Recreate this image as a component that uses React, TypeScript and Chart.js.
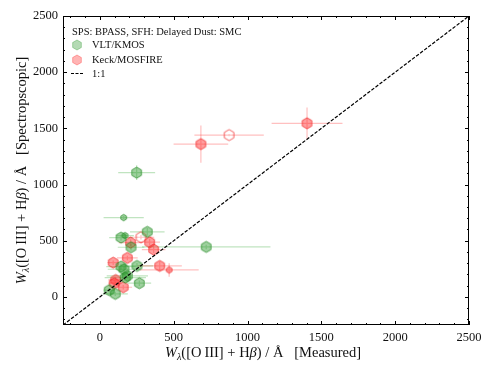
import { useEffect, useRef } from 'react';
import { Chart, registerables } from 'chart.js';
Chart.register(...registerables);

const axisMin = -250;
const axisMax = 2500;
const majorTicks = [0, 500, 1000, 1500, 2000, 2500];
const minorStep = 100;

const kmosMeasured = [249, 161, 321, 143, 170, 211, 720, 143, 163, 251, 172, 186, 267, 63, 104];
const kmosSpec = [1106, 706, 579, 528, 546, 442, 445, 270, 246, 276, 172, 187, 122, 60, 27];
const kmosMeasuredErr = [125, 136, 117, 80, 60, 90, 435, 100, 110, 110, 140, 140, 80, 40, 85];
const kmosSpecErr = [65, 15, 35, 25, 20, 30, 20, 25, 25, 25, 20, 20, 25, 20, 20];
const kmosCompact = [false, true, false, false, true, false, false, false, false, false, false, false, false, false, false];

const mosfireMeasured = [684, 875, 1403, 278, 208, 337, 364, 186, 90, 405, 469, 107, 97, 158];
const mosfireSpec = [1360, 1440, 1545, 531, 483, 487, 421, 347, 305, 276, 240, 151, 122, 86];
const mosfireMeasuredErr = [185, 235, 240, 90, 80, 70, 80, 70, 40, 150, 200, 50, 40, 60];
const mosfireSpecErr = [165, 10, 140, 20, 30, 30, 30, 20, 20, 40, 60, 30, 30, 20];
const mosfireCompact = [false, false, false, false, false, false, false, false, false, false, true, false, false, false];
const mosfireOpen = [false, true, false, true, false, false, false, false, false, false, false, false, false, false];

const oneToOne = [axisMin, axisMax];

const legendTitle = 'SPS: BPASS, SFH: Delayed Dust: SMC';
const kmosLabel = 'VLT/KMOS';
const mosfireLabel = 'Keck/MOSFIRE';
const lineLabel = '1:1';

const FONT = '"Liberation Serif", "Times New Roman", serif';

function makeHex(r: number, fill: string | null, stroke: string, lw: number) {
  const size = Math.ceil(2 * (r + lw)) + 2;
  const c = document.createElement('canvas');
  c.width = size;
  c.height = size;
  const g = c.getContext('2d')!;
  const cx = size / 2, cy = size / 2;
  g.beginPath();
  for (let k = 0; k < 6; k++) {
    const a = (-90 + 60 * k) * Math.PI / 180;
    const px = cx + r * Math.cos(a), py = cy + r * Math.sin(a);
    if (k === 0) g.moveTo(px, py); else g.lineTo(px, py);
  }
  g.closePath();
  if (fill) { g.fillStyle = fill; g.fill(); }
  g.lineWidth = lw;
  g.strokeStyle = stroke;
  g.stroke();
  return c;
}

type Seg = { t: string; it?: boolean; sub?: boolean };

function drawRich(ctx: CanvasRenderingContext2D, segs: Seg[], size: number) {
  const fontFor = (s: Seg) => `${s.it ? 'italic ' : ''}${s.sub ? size * 0.7 : size}px ${FONT}`;
  let total = 0;
  const widths = segs.map((s) => { ctx.font = fontFor(s); const w = ctx.measureText(s.t).width; total += w; return w; });
  let x = -total / 2;
  ctx.textBaseline = 'alphabetic';
  ctx.textAlign = 'left';
  segs.forEach((s, i) => {
    ctx.font = fontFor(s);
    ctx.fillText(s.t, x, s.sub ? size * 0.22 : 0);
    x += widths[i];
  });
}

const GREEN_FILL = 'rgba(40,150,40,0.45)';
const GREEN_EDGE = 'rgba(40,140,40,0.75)';
const GREEN_ERR = 'rgba(60,170,60,0.32)';
const RED_FILL = 'rgba(255,40,40,0.45)';
const RED_EDGE = 'rgba(240,30,30,0.7)';
const RED_ERR = 'rgba(255,60,60,0.32)';

export default function App() {
  const ref = useRef<HTMLCanvasElement>(null);
  useEffect(() => {
    document.body.style.margin = '0';
    const greenBig = makeHex(5.5, GREEN_FILL, GREEN_EDGE, 1);
    const greenSmall = makeHex(3.2, GREEN_FILL, GREEN_EDGE, 1);
    const redBig = makeHex(5.5, RED_FILL, RED_EDGE, 1);
    const redSmall = makeHex(3.2, RED_FILL, RED_EDGE, 1);
    const redOpen = makeHex(5.5, null, RED_EDGE, 1);
    const greenLegend = makeHex(5, 'rgba(40,150,40,0.35)', 'rgba(40,150,40,0.35)', 1);
    const redLegend = makeHex(5, 'rgba(255,40,40,0.35)', 'rgba(255,40,40,0.35)', 1);

    const errorBars = {
      id: 'errorBars',
      beforeDatasetsDraw(chart: any) {
        const { ctx, chartArea, scales } = chart;
        ctx.save();
        ctx.beginPath();
        ctx.rect(chartArea.left, chartArea.top, chartArea.right - chartArea.left, chartArea.bottom - chartArea.top);
        ctx.clip();
        ctx.lineWidth = 1.2;
        chart.data.datasets.forEach((ds: any) => {
          if (!ds.errX) return;
          ctx.strokeStyle = ds.errColor;
          ds.data.forEach((p: any, i: number) => {
            const x = scales.x.getPixelForValue(p.x);
            const y = scales.y.getPixelForValue(p.y);
            const x0 = scales.x.getPixelForValue(p.x - ds.errX[i]);
            const x1 = scales.x.getPixelForValue(p.x + ds.errX[i]);
            const y0 = scales.y.getPixelForValue(p.y - ds.errY[i]);
            const y1 = scales.y.getPixelForValue(p.y + ds.errY[i]);
            ctx.beginPath();
            ctx.moveTo(x0, y); ctx.lineTo(x1, y);
            ctx.moveTo(x, y0); ctx.lineTo(x, y1);
            ctx.stroke();
          });
        });
        ctx.restore();
      },
    };

    const frame = {
      id: 'frame',
      afterDraw(chart: any) {
        const { ctx, chartArea: a, scales } = chart;
        ctx.save();
        ctx.strokeStyle = '#000';
        ctx.lineWidth = 1;
        ctx.strokeRect(a.left + 0.5, a.top + 0.5, a.right - a.left - 1, a.bottom - a.top - 1);
        ctx.beginPath();
        for (let v = -200; v <= axisMax; v += minorStep) {
          const major = v % 500 === 0;
          const len = major ? 4 : 2;
          const px = Math.round(scales.x.getPixelForValue(v)) + 0.5;
          ctx.moveTo(px, a.bottom); ctx.lineTo(px, a.bottom - len);
          ctx.moveTo(px, a.top); ctx.lineTo(px, a.top + len);
          const py = Math.round(scales.y.getPixelForValue(v)) + 0.5;
          ctx.moveTo(a.left, py); ctx.lineTo(a.left + len, py);
          ctx.moveTo(a.right, py); ctx.lineTo(a.right - len, py);
        }
        ctx.stroke();

        // axis titles
        ctx.fillStyle = '#111';
        ctx.save();
        ctx.translate((a.left + a.right) / 2 - 3, 357);
        drawRich(ctx, [
          { t: 'W', it: true }, { t: 'λ', sub: true, it: true },
          { t: '([O\u2009III] + H' }, { t: 'β', it: true },
          { t: ') / Å   [Measured]' },
        ], 14.5);
        ctx.restore();
        ctx.save();
        ctx.translate(26, (a.top + a.bottom) / 2);
        ctx.rotate(-Math.PI / 2);
        drawRich(ctx, [
          { t: 'W', it: true }, { t: 'λ', sub: true, it: true },
          { t: '([O\u2009III] + H' }, { t: 'β', it: true },
          { t: ') / Å   [Spectropscopic]' },
        ], 14.5);
        ctx.restore();

        // legend
        ctx.font = `10.5px ${FONT}`;
        ctx.textAlign = 'left';
        ctx.textBaseline = 'middle';
        ctx.fillStyle = '#111';
        ctx.fillText(legendTitle, 72, 32);
        ctx.drawImage(greenLegend, 77 - greenLegend.width / 2, 45 - greenLegend.height / 2);
        ctx.fillText(kmosLabel, 92, 45);
        ctx.drawImage(redLegend, 77 - redLegend.width / 2, 60 - redLegend.height / 2);
        ctx.fillText(mosfireLabel, 92, 60);
        ctx.strokeStyle = '#000';
        ctx.lineWidth = 1.2;
        ctx.setLineDash([3, 1.5]);
        ctx.beginPath();
        ctx.moveTo(71, 73.5); ctx.lineTo(83, 73.5);
        ctx.stroke();
        ctx.setLineDash([]);
        ctx.fillText(lineLabel, 92, 74);
        ctx.restore();
      },
    };

    const tickFont = { family: FONT, size: 12.5 };
    const fmt = (v: any) => String(v);
    const chart = new Chart(ref.current!, {
      type: 'scatter',
      data: {
        datasets: [
          {
            type: 'line',
            label: lineLabel,
            data: oneToOne.map((v) => ({ x: v, y: v })),
            borderColor: '#000',
            borderWidth: 1.2,
            borderDash: [3.5, 1.6],
            pointRadius: 0,
            showLine: true,
            fill: false,
          } as any,
          {
            label: kmosLabel,
            data: kmosMeasured.map((x, i) => ({ x, y: kmosSpec[i] })),
            errX: kmosMeasuredErr,
            errY: kmosSpecErr,
            errColor: GREEN_ERR,
            pointStyle: (c: any) => (kmosCompact[c.dataIndex] ? greenSmall : greenBig),
          } as any,
          {
            label: mosfireLabel,
            data: mosfireMeasured.map((x, i) => ({ x, y: mosfireSpec[i] })),
            errX: mosfireMeasuredErr,
            errY: mosfireSpecErr,
            errColor: RED_ERR,
            pointStyle: (c: any) => (mosfireOpen[c.dataIndex] ? redOpen : mosfireCompact[c.dataIndex] ? redSmall : redBig),
          } as any,
        ],
      },
      options: {
        responsive: false,
        animation: false,
        devicePixelRatio: 1,
        events: [],
        layout: { padding: { top: 16, right: 29, left: 0, bottom: 0 } },
        plugins: { legend: { display: false }, tooltip: { enabled: false } },
        scales: {
          x: {
            type: 'linear',
            min: axisMin,
            max: axisMax,
            afterBuildTicks: (s: any) => { s.ticks = majorTicks.map((value) => ({ value })); },
            afterFit: (s: any) => { s.height = 49; },
            grid: { display: false, drawTicks: false },
            border: { display: false },
            ticks: { font: tickFont, color: '#111', padding: 5, maxRotation: 0, callback: fmt },
          },
          y: {
            type: 'linear',
            min: axisMin,
            max: axisMax,
            afterBuildTicks: (s: any) => { s.ticks = majorTicks.map((value) => ({ value })); },
            afterFit: (s: any) => { s.width = 63; },
            grid: { display: false, drawTicks: false },
            border: { display: false },
            ticks: { font: tickFont, color: '#111', padding: 5, callback: fmt },
          },
        },
      },
      plugins: [errorBars, frame],
    });
    return () => chart.destroy();
  }, []);
  return (
    <div style={{ width: 498, height: 374 }}>
      <canvas ref={ref} width={498} height={374} />
    </div>
  );
}
